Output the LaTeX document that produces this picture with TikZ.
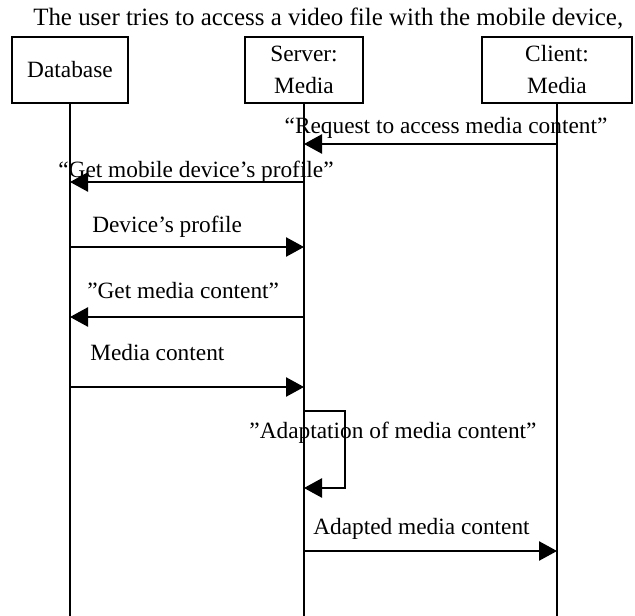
\documentclass[tikz,border=0pt]{standalone}
\usepackage{fontspec}
\setmainfont{Liberation Serif}
\usepackage{tikz}
\usetikzlibrary{positioning, arrows.meta}

\begin{document}
\begin{tikzpicture}[
        x=0.75pt, y=-0.75pt,
        every node/.style={inner sep=0pt, font=\fontsize{17.5}{24}\selectfont},
        actor/.style={draw, line width=1.3pt, minimum height=49.5pt, align=center},
        msg/.style={line width=1pt, -{Triangle[length=13.5pt, width=14.5pt]}},
        life/.style={line width=1.3pt}
        ]
        \useasboundingbox (0,0) rectangle (635,616);

        % Nodes
        \node (title) [anchor=base west, font=\fontsize{18.7}{22}\selectfont] at (33,26) {The user tries to access a video file with the mobile device,};
        \node (db) [actor, minimum width=87pt] at (70,70) {Database};
        \node (srv) [actor, minimum width=88.5pt] at (304,70) {Server:\\Media};
        \node (cli) [actor, minimum width=112.5pt] at (557,70) {Client:\\Media};

        % Levels
        \coordinate (bottom) at (0,616);
        \coordinate (m1) at (0,144);
        \coordinate (m2) at (0,182);
        \coordinate (m3) at (0,247);
        \coordinate (m4) at (0,317);
        \coordinate (m5) at (0,387);
        \coordinate (m6a) at (0,411);
        \coordinate (m6b) at (0,488);
        \coordinate (loop) at (345,450);
        \coordinate (m7) at (0,551);

        % Labels
        \node (request) [anchor=base] at (446,134) {“Request to access media content”};
        \node (getprofile) [anchor=base] at (196,178) {“Get mobile device’s profile”};
        \node (profile) [anchor=base west] at (92,233) {Device’s profile};
        \node (getmedia) [anchor=base west] at (87,299) {”Get media content”};
        \node (media) [anchor=base west] at (90,361) {Media content};
        \node (adapt) [anchor=base] at (393,438) {”Adaptation of media content”};
        \node (adapted) [anchor=base west] at (313,534) {Adapted media content};

        % Lifelines
        \draw[life] (db.south) -- (db.south |- bottom);
        \draw[life] (srv.south) -- (srv.south |- bottom);
        \draw[life] (cli.south) -- (cli.south |- bottom);

        % Arrows
        \draw[msg] (cli |- m1) -- (srv |- m1);
        \draw[msg] (srv |- m2) -- (db |- m2);
        \draw[msg] (db |- m3) -- (srv |- m3);
        \draw[msg] (srv |- m4) -- (db |- m4);
        \draw[msg] (db |- m5) -- (srv |- m5);
        \draw[msg] (srv |- m6a) -| (loop) |- (srv |- m6b);
        \draw[msg] (srv |- m7) -- (cli |- m7);
\end{tikzpicture}
\end{document}
